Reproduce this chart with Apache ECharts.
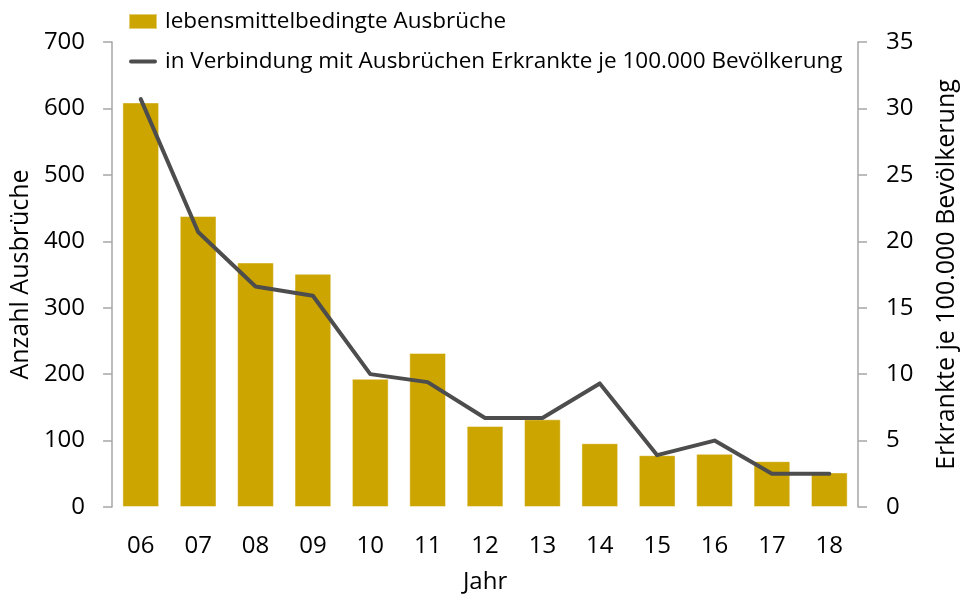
<!DOCTYPE html>
<html>
<head>
<meta charset="utf-8">
<script src="https://cdn.jsdelivr.net/npm/echarts@6/dist/echarts.min.js"></script>
<style>html,body{margin:0;padding:0;background:#fff}#c{width:967px;height:600px}</style>
</head>
<body>
<div id="c"></div>
<script>
const years = ['06','07','08','09','10','11','12','13','14','15','16','17','18'];
const outbreaks = [609, 438, 368, 351, 193, 232, 122, 132, 96, 78, 80, 69, 52];
const illPer100k = [30.7, 20.7, 16.6, 15.9, 10.0, 9.4, 6.7, 6.7, 9.3, 3.9, 5.0, 2.5, 2.5];
const leftTicks = {min: 0, max: 700, interval: 100};
const rightTicks = {min: 0, max: 35, interval: 5};
const barName = 'lebensmittelbedingte Ausbrüche';
const lineName = 'in Verbindung mit Ausbrüchen Erkrankte je 100.000 Bevölkerung';

const FONT = 'Open Sans';
const axisGray = '#a6a6a6';
const chart = echarts.init(document.getElementById('c'), null, {renderer: 'canvas'});
chart.setOption({
  animation: false,
  textStyle: {fontFamily: FONT, color: '#000'},
  grid: {left: 111, right: 105, top: 42, bottom: 93, containLabel: false},
  legend: {
    orient: 'vertical', left: 128, top: 10, padding: 0,
    itemWidth: 28, itemHeight: 15, itemGap: 17,
    textStyle: {fontFamily: FONT, fontSize: 22.5, color: '#000', padding: [0,0,0,3]},
    data: [
      {name: barName, icon: 'rect'},
      {name: lineName, icon: 'path://M2,0H26A2,2 0 0 1 26,4H2A2,2 0 0 1 2,0Z', itemStyle: {color: '#4d4d4d'}}
    ]
  },
  xAxis: {
    type: 'category', data: years,
    axisLine: {show: false}, axisTick: {show: false},
    axisLabel: {fontFamily: FONT, fontSize: 24, color: '#000', margin: 27},
    name: 'Jahr', nameLocation: 'middle', nameGap: 63,
    nameTextStyle: {fontFamily: FONT, fontSize: 24, color: '#000'}
  },
  yAxis: [{
    type: 'value', min: leftTicks.min, max: leftTicks.max, interval: leftTicks.interval,
    splitLine: {show: false},
    axisLine: {show: true, lineStyle: {color: axisGray, width: 1.5}},
    axisTick: {show: true, length: 9, lineStyle: {color: axisGray, width: 1.5}},
    axisLabel: {fontFamily: FONT, fontSize: 24, color: '#000', margin: 27},
    name: 'Anzahl Ausbrüche', nameLocation: 'middle', nameGap: 68, nameRotate: 90,
    nameTextStyle: {fontFamily: FONT, fontSize: 25, color: '#000'}
  }, {
    type: 'value', position: 'right', min: rightTicks.min, max: rightTicks.max, interval: rightTicks.interval,
    splitLine: {show: false},
    axisLine: {show: true, lineStyle: {color: axisGray, width: 1.5}},
    axisTick: {show: true, length: 9, lineStyle: {color: axisGray, width: 1.5}},
    axisLabel: {fontFamily: FONT, fontSize: 24, color: '#000', margin: 28},
    name: 'Erkrankte je 100.000 Bevölkerung', nameLocation: 'middle', nameGap: 76, nameRotate: 90,
    nameTextStyle: {fontFamily: FONT, fontSize: 25, color: '#000'}
  }],
  series: [{
    name: barName, type: 'bar', data: outbreaks, yAxisIndex: 0,
    barWidth: '64%',
    itemStyle: {color: '#cca500', borderColor: 'rgba(255,255,255,0.45)', borderWidth: 1}
  }, {
    name: lineName, type: 'line', data: illPer100k, yAxisIndex: 1,
    symbol: 'none', showSymbol: false,
    lineStyle: {color: '#4d4d4d', width: 4, cap: 'round', join: 'round'},
    itemStyle: {color: '#4d4d4d'}
  }]
});
</script>
</body>
</html>
